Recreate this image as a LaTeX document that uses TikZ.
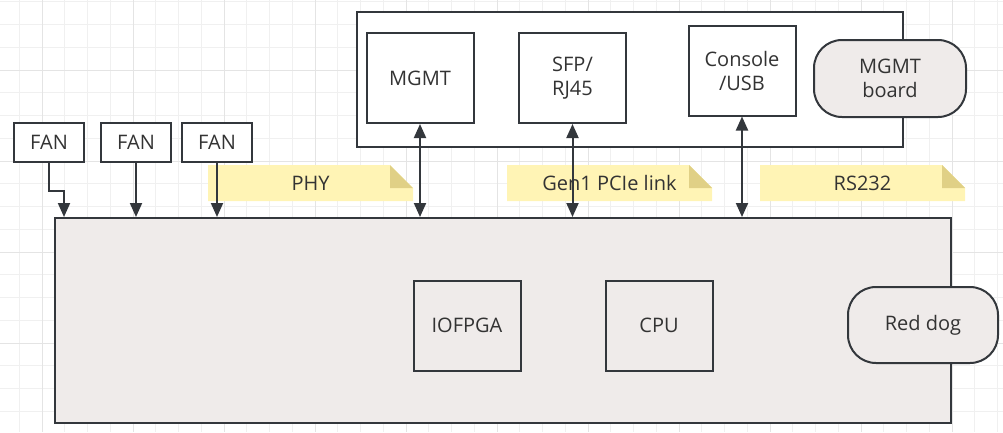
\documentclass[tikz,border=0pt]{standalone}
\usepackage{fontspec}
\setmainfont{Open Sans}
\usetikzlibrary{arrows.meta,positioning,calc}
\definecolor{linec}{RGB}{51,55,60}
\definecolor{textc}{RGB}{51,51,51}
\definecolor{boxfill}{RGB}{239,235,234}
\definecolor{notefill}{RGB}{255,244,181}
\definecolor{notefold}{RGB}{224,208,134}
\definecolor{minorgrid}{RGB}{240,240,240}
\definecolor{majorgrid}{RGB}{228,228,228}
\tikzset{
  blk/.style={draw=linec,line width=2pt,inner sep=0pt,text=textc,align=center,
    font=\fontsize{20}{24}\selectfont},
  fan/.style={blk,minimum width=70pt,minimum height=39pt},
  unit/.style={blk,minimum width=107pt,minimum height=90pt},
  pill/.style={blk,fill=boxfill,rounded corners=28pt},
  note/.style={inner sep=0pt,text=textc,minimum width=205pt,minimum height=36pt,
    font=\fontsize{20}{24}\selectfont,
    path picture={
      \fill[notefill] (path picture bounding box.south west)
        -- (path picture bounding box.north west)
        -- ([xshift=-23pt]path picture bounding box.north east)
        -- ([yshift=-23pt]path picture bounding box.north east)
        -- (path picture bounding box.south east) -- cycle;
      \fill[notefold] ([xshift=-23pt]path picture bounding box.north east)
        -- ([xshift=-23pt,yshift=-23pt]path picture bounding box.north east)
        -- ([yshift=-23pt]path picture bounding box.north east) -- cycle;}},
  link/.style={draw=linec,line width=2pt,-{Triangle[width=12pt,length=14pt]}},
  dlink/.style={link,{Triangle[width=12pt,length=14pt]}-{Triangle[width=12pt,length=14pt]}}
}

\begin{document}
\begin{tikzpicture}[x=1pt,y=-1pt]
\useasboundingbox (0,0) rectangle (1003,432);
\foreach \x in {19.25,42,...,1003} \draw[minorgrid,line width=1pt] (\x,0) -- (\x,432);
\foreach \y in {1.75,24.5,...,432} \draw[minorgrid,line width=1pt] (0,\y) -- (1003,\y);
\foreach \x in {42,133,...,1003} \draw[majorgrid,line width=1pt] (\x,0) -- (\x,432);
\foreach \y in {70,161,...,432} \draw[majorgrid,line width=1pt] (0,\y) -- (1003,\y);

\node[blk,fill=boxfill,minimum width=896pt,minimum height=205pt] (main) at (503,320.5) {};
\node[blk,fill=white,minimum width=546pt,minimum height=135pt] (mgmtbox) at (630,79.5) {};

\node[fan,fill=white] (fan1) at (49,142.5) {FAN};
\node[fan,fill=white] (fan2) at (136,142.5) {FAN};
\node[fan,fill=white] (fan3) at (217,142.5) {FAN};

\node[unit] (mgmt) at (420,78) {MGMT};
\node[unit] (sfp) at (572.5,78) {SFP/\\RJ45};
\node[unit] (console) at (742,70.5) {Console\\/USB};
\node[pill,minimum width=152pt,minimum height=77pt] (board) at (890,78.5) {MGMT\\board};

\node[unit] (iofpga) at (467,325.5) {IOFPGA};
\node[unit] (cpu) at (659,325.5) {CPU};
\node[pill,minimum width=150pt,minimum height=76pt] (reddog) at (923,325) {Red dog};

\node[note] (phy) at (310.5,183) {PHY};
\node[note] (pcie) at (609.5,183) {Gen1 PCIe link};
\node[note] (rs232) at (862.5,183) {RS232};

\draw[link] (fan1.south) -- ++(0,28) -| ([xshift=10pt]main.north west);
\draw[link] (fan2) -- (fan2 |- main.north);
\draw[link] (fan3) -- (fan3 |- main.north);
\draw[dlink] (mgmt) -- (mgmt |- main.north);
\draw[dlink] (sfp) -- (sfp |- main.north);
\draw[dlink] (console) -- (console |- main.north);
\end{tikzpicture}
\end{document}
